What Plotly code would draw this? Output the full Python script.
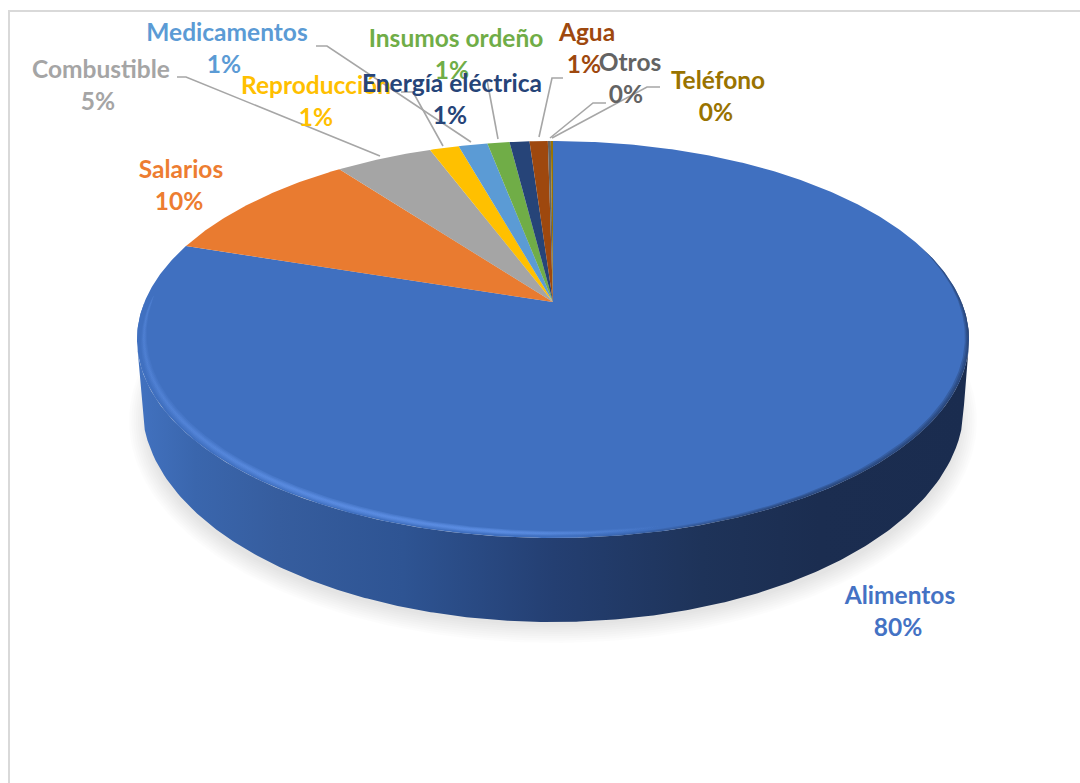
import numpy as np
import plotly.graph_objects as go

# ---- data ----
categories = ["Alimentos", "Salarios", "Combustible", "Reproducción", "Medicamentos",
              "Insumos ordeño", "Energía eléctrica", "Agua", "Otros", "Teléfono"]
values = [80.0, 9.72, 4.52, 1.36, 1.35, 1.03, 0.93, 0.85, 0.14, 0.10]

# ---- styling and layout ----
colors = ["#4070c0", "#e97b30", "#a5a5a5", "#ffc000", "#5b9bd5",
          "#70ad47", "#264478", "#9e480e", "#636363", "#997300"]
text_colors = ["#4472c4", "#ed7d31", "#a5a5a5", "#ffc000", "#5b9bd5",
               "#70ad47", "#264478", "#9e480e", "#636363", "#997300"]
name_pos = [(900, 598), (181, 172), (101, 72), (316, 88), (227, 35),
            (456, 41), (452, 86), (587, 35), (630, 65), (718, 83)]
pct_pos = [(898, 630), (179, 204), (98, 104), (316, 120), (224, 67),
           (452, 73), (450, 118), (584, 67), (626, 97), (716, 115)]
leader_lines = {
    "Combustible": [(177, 77), (186, 77), (380, 156)],
    "Medicamentos": [(316, 46), (327, 46), (471, 142)],
    "Reproducción": [(401, 92), (413, 92), (443, 146)],
    "Insumos ordeño": [(487, 80), (498, 139)],
    "Agua": [(563, 78), (552, 78), (539, 137)],
    "Otros": [(606, 103), (593, 103), (550, 138)],
    "Teléfono": [(660, 87), (647, 87), (552, 138)],
}
FONT = "Lato"
FONT_SIZE = 24.5

# perspective projection of the pie's top disc
CX, CY = 553.0, 302.0
K, A, B = 0.189, 191.4, 408.5


def project(theta, r=1.0):
    u, v = r * np.sin(theta), r * np.cos(theta)
    w = 1 + K * v
    return CX + B * u / w, CY - A * v / w


def bottom_outline(x):
    return 405 + 217 * np.sqrt(np.clip(1 - ((x - 553) / 411) ** 2, 0, 1))


def soft_band(t0, t1, r_mid, half, n=200):
    """Ring segment around r_mid whose thickness tapers to nothing at both ends."""
    deg = np.linspace(t0, t1, n)
    t = np.radians(deg)
    taper = np.sin(np.pi * (deg - t0) / (t1 - t0)) ** 0.6
    xo, yo = project(t, np.minimum(1.0, r_mid + half * taper))
    xi, yi = project(t[::-1], (r_mid - half * taper)[::-1])
    return np.r_[xo, xi, xo[0]], np.r_[yo, yi, yo[0]]


fig = go.Figure()

# soft shadow beneath the pie
ts = np.linspace(0, 2 * np.pi, 240)
for i in range(9):
    grow = 20 - 2.2 * i
    fig.add_trace(go.Scatter(
        x=553 + (404 + grow) * np.cos(ts), y=421 + (202 + grow) * np.sin(ts),
        mode="lines", line=dict(width=0), fill="toself",
        fillcolor="rgba(0,0,0,0.012)", hoverinfo="skip", showlegend=False))

# side wall (only the front of the largest slice is visible)
t_wall = np.radians(np.linspace(90, 270, 300))
xt, yt = project(t_wall)
xb = np.linspace(142, 964, 300)
yb = bottom_outline(xb)
wall_x = np.r_[xt, 137, xb, 969, xt[0]]
wall_y = np.r_[yt, 343, yb, 343, yt[0]]
wall_scale = [[0.0, "#4272c0"], [0.07, "#3a66ad"], [0.17, "#365d9e"], [0.32, "#2e5493"],
              [0.5, "#243f72"], [0.68, "#1e3359"], [0.82, "#1b2d50"], [1.0, "#1a2c4f"]]
fig.add_trace(go.Scatter(
    x=wall_x, y=wall_y, mode="lines", line=dict(width=0), fill="toself",
    fillgradient=dict(type="horizontal", colorscale=wall_scale, start=137, stop=969),
    hoverinfo="skip", showlegend=False))

# top face: one wedge per value, clockwise from 12 o'clock
edges = np.r_[0, np.cumsum(values)] / np.sum(values) * 360
for name, col, a0, a1 in zip(categories, colors, edges[:-1], edges[1:]):
    t = np.radians(np.linspace(a0, a1, max(3, int((a1 - a0) * 2))))
    x, y = project(t)
    fig.add_trace(go.Scatter(
        x=np.r_[CX, x, CX], y=np.r_[CY, y, CY], mode="lines", line=dict(width=0),
        fill="toself", fillcolor=col, name=name, hoverinfo="name", showlegend=False))

# bevel: soft light rim on the left/front, dark blur on the right/front
light = [[0, "rgba(96,146,232,0.12)"], [0.3, "rgba(96,146,232,0.3)"],
         [0.7, "rgba(96,146,232,0.34)"], [1, "rgba(96,146,232,0)"]]
for half in [0.012, 0.008, 0.005, 0.0025]:
    x, y = soft_band(160, 272, 0.984, half)
    fig.add_trace(go.Scatter(
        x=x, y=y, mode="lines", line=dict(width=0), fill="toself",
        fillgradient=dict(type="horizontal", colorscale=light, start=137, stop=660),
        hoverinfo="skip", showlegend=False))
dark = [[0, "rgba(26,44,79,0)"], [1, "rgba(26,44,79,0.26)"]]
for half in [0.012, 0.008, 0.004]:
    x, y = soft_band(72, 190, 1.0, half)
    fig.add_trace(go.Scatter(
        x=x, y=y, mode="lines", line=dict(width=0), fill="toself",
        fillgradient=dict(type="horizontal", colorscale=dark, start=570, stop=780),
        hoverinfo="skip", showlegend=False))

# leader lines
for pts in leader_lines.values():
    fig.add_trace(go.Scatter(
        x=[p[0] for p in pts], y=[p[1] for p in pts], mode="lines",
        line=dict(color="#a6a6a6", width=1.6), hoverinfo="skip", showlegend=False))

# labels: later ones sit over earlier ones, as in the reference
for i in [0, 1, 2, 4, 5, 3, 7, 8, 9, 6]:
    for txt, pos in [(categories[i], name_pos[i]), (f"{values[i]:.0f}%", pct_pos[i])]:
        fig.add_trace(go.Scatter(
            x=[pos[0]], y=[pos[1]], mode="text", text=[f"<b>{txt}</b>"],
            textposition="middle center",
            textfont=dict(family=FONT, size=FONT_SIZE, color=text_colors[i]),
            hoverinfo="skip", showlegend=False))

fig.update_layout(
    width=1080, height=783, margin=dict(l=0, r=0, t=0, b=0),
    paper_bgcolor="white", plot_bgcolor="white", showlegend=False,
    xaxis=dict(range=[0, 1080], visible=False, fixedrange=True),
    yaxis=dict(range=[783, 0], visible=False, fixedrange=True),
    shapes=[
        dict(type="line", x0=8, x1=1080, y0=11, y1=11, line=dict(color="#d9d9d9", width=2)),
        dict(type="line", x0=9, x1=9, y0=10, y1=783, line=dict(color="#d9d9d9", width=2)),
    ],
)
fig.write_html("out.html", config={"displayModeBar": False},
               post_script="document.body.style.margin='0';document.body.style.overflow='hidden';")
